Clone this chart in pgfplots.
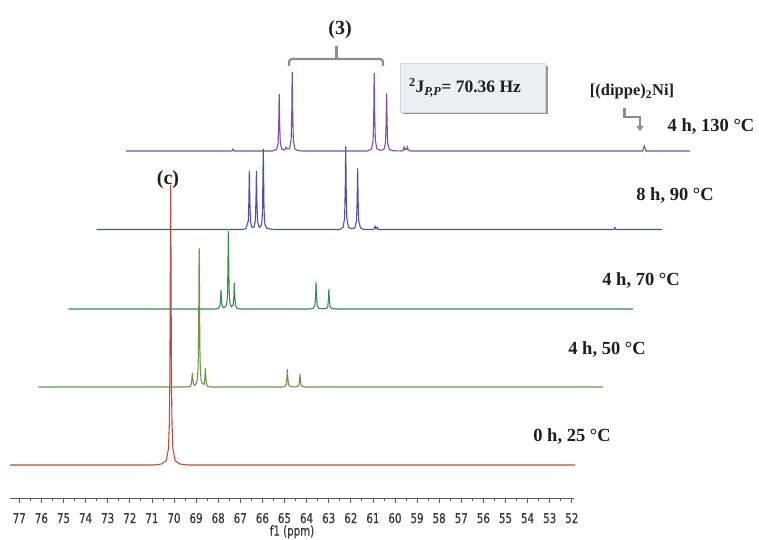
\documentclass[border=0pt]{standalone}
\usepackage{fontspec}
\setmainfont{Liberation Serif}
\newfontfamily\ticfont[FakeStretch=0.76, FakeBold=0.5]{DejaVu Sans}
\usepackage{pgfplots}
\pgfplotsset{compat=1.18}
\usetikzlibrary{arrows.meta}
\definecolor{cred}{RGB}{180,80,60}
\definecolor{cgA}{RGB}{110,150,70}
\definecolor{cgB}{RGB}{60,140,80}
\definecolor{cblue}{RGB}{80,80,160}
\definecolor{cpur}{RGB}{125,80,160}
\definecolor{ctxt}{RGB}{30,30,30}
\definecolor{ctick}{RGB}{55,55,55}
\definecolor{cbr}{RGB}{140,140,140}
\definecolor{cboxf}{RGB}{237,240,243}
\definecolor{cboxd}{RGB}{212,216,222}
\definecolor{cshad}{RGB}{150,150,150}
\definecolor{caxis}{RGB}{90,90,90}
\begin{document}
\begin{tikzpicture}
\begin{axis}[name=main, at={(0,0)}, anchor=south west, scale only axis,
  width=759pt, height=539pt, xmin=43.53, xmax=77.873, x dir=reverse,
  ymin=0, ymax=539, hide axis, clip=false]
% 0 h, 25 C
\addplot[cred, line width=1.1pt] coordinates {
(77.42,74) (70.90,74) (70.55,75.1) (70.35,78.3) (70.25,90.5) (70.21,115.4) (70.19,152.7) (70.175,214) (70.165,280) (70.15,354) (70.135,280) (70.125,214) (70.11,152.7) (70.09,115.4) (70.05,90.5) (69.95,78.3) (69.75,75.1) (69.40,74) (51.85,74)};
% 4 h, 50 C
\addplot[cgA, line width=1.1pt] coordinates {
(76.14,152) (69.45,152) (69.25,152.5) (69.22,155) (69.19,159.7) (69.17,166) (69.15,159.9) (69.12,155.4) (69.06,153.7) (68.98,156) (68.94,160.2) (68.91,171) (68.895,186) (68.88,221.5) (68.87,263) (68.86,291) (68.85,263) (68.84,221.5) (68.825,186) (68.81,171) (68.78,160.3) (68.74,156.3) (68.66,154.5) (68.63,155.5) (68.60,161.9) (68.58,170.8) (68.56,161.7) (68.53,154.5) (68.46,152.5) (68.30,152)
(65.10,152) (64.99,152.5) (64.92,154.5) (64.89,161) (64.87,170) (64.85,161) (64.82,154.5) (64.75,152.5) (64.55,152) (64.42,152.4) (64.35,153.8) (64.32,158.5) (64.30,165) (64.28,158.5) (64.25,153.8) (64.18,152.4) (64.05,152) (50.59,152)};
% 4 h, 70 C
\addplot[cgB, line width=1.1pt] coordinates {
(74.78,230) (68.15,230) (68.00,230.5) (67.92,232.8) (67.89,239.8) (67.87,249.3) (67.85,239.8) (67.82,233) (67.76,231.2) (67.66,232.3) (67.62,234.6) (67.59,240.8) (67.575,249.2) (67.56,269) (67.55,292.4) (67.54,308) (67.53,292.4) (67.52,269) (67.505,249.2) (67.49,241) (67.46,235) (67.40,232.2) (67.32,234.2) (67.29,243.5) (67.27,256) (67.25,243) (67.22,233.6) (67.15,230.7) (67.00,230)
(63.85,230) (63.70,230.7) (63.62,233.7) (63.59,243.5) (63.57,257) (63.55,243.5) (63.52,233.7) (63.45,230.7) (63.30,230.2) (63.10,230.5) (63.04,232.8) (63.01,240) (62.99,250) (62.97,240) (62.94,232.8) (62.87,230.5) (62.70,230) (49.23,230)};
% 8 h, 90 C
\addplot[cblue, line width=1.1pt] coordinates {
(73.50,309.5) (66.90,309.5) (66.75,310.4) (66.64,317.8) (66.61,338.8) (66.60,356.3) (66.59,368) (66.58,356.3) (66.57,338.8) (66.54,318) (66.49,312.2) (66.43,311.4) (66.37,312.4) (66.32,318.2) (66.29,339.2) (66.28,356.5) (66.27,368.2) (66.26,356.6) (66.25,339.3) (66.22,318.1) (66.16,312.2) (66.10,311.9) (66.04,314.6) (66.01,320.8) (65.99,334.5) (65.97,373.9) (65.96,390) (65.95,373.9) (65.93,334.5) (65.91,320.6) (65.88,314.2) (65.80,310.7) (65.60,309.8) (65.40,309.5)
(62.50,309.5) (62.35,311.7) (62.28,321) (62.25,351) (62.24,375.9) (62.23,392.5) (62.22,375.9) (62.21,351) (62.18,321) (62.10,311.5) (61.96,310.3) (61.82,311.1) (61.74,317.9) (61.71,340) (61.70,358.3) (61.69,370.5) (61.68,358.3) (61.67,340) (61.64,317.9) (61.56,311) (61.40,309.5)
(60.98,309.5) (60.93,310.5) (60.90,312.5) (60.87,310.5) (60.84,311) (60.81,311.8) (60.78,309.8) (60.70,309.5) (50.10,309.5) (50.05,311.5) (50.00,309.5) (47.93,309.5)};
% 4 h, 130 C
\addplot[cpur, line width=1.1pt] coordinates {
(72.17,388) (67.38,388) (67.33,390) (67.28,388) (65.55,388) (65.36,389.5) (65.29,395.9) (65.26,416.5) (65.25,433.6) (65.24,445) (65.23,433.6) (65.22,416.5) (65.19,396) (65.12,389.7) (65.00,389) (64.93,391.7) (64.86,390) (64.77,390.2) (64.70,398.9) (64.67,427.5) (64.66,451.2) (64.65,467) (64.64,451.2) (64.63,427.5) (64.60,398.9) (64.53,390.1) (64.40,388.4) (64.20,388)
(61.25,388) (61.06,390.1) (60.99,398.8) (60.96,427) (60.95,450.4) (60.94,466) (60.93,450.4) (60.92,427) (60.89,398.8) (60.82,390.2) (60.66,388.7) (60.50,389.6) (60.43,396) (60.40,416.9) (60.39,434.2) (60.38,445.7) (60.37,434.2) (60.36,416.9) (60.33,396) (60.26,389.6) (60.10,388.3) (59.70,388) (59.62,389) (59.59,392) (59.555,389.5) (59.515,390) (59.48,389.5) (59.44,392) (59.40,389) (59.30,388) (48.80,388) (48.72,393) (48.64,388) (46.65,388)};
\end{axis}
\begin{axis}[at={(10pt,40.5pt)}, anchor=south west, scale only axis,
  width=564pt, height=10pt, xmin=51.9, xmax=77.42, x dir=reverse,
  ymin=0, ymax=1, hide y axis, axis x line=bottom,
  axis line style={-, draw=caxis, line width=0.8pt},
  xtick={52,...,77}, minor x tick num=1, tick align=outside,
  major tick length=4pt, minor tick length=2.5pt,
  tick style={draw=caxis, line width=0.7pt},
  /pgf/number format/assume math mode=true,
  xticklabel style={font=\ticfont\fontsize{13.5}{14}\selectfont, text=ctick, anchor=base, yshift=-20.5pt},
  xlabel={f1 (ppm)},
  xlabel style={font=\ticfont\fontsize{13.5}{14}\selectfont, text=ctick, at={(axis description cs:0.5,0)}, anchor=base, yshift=-37pt}]
\addplot[draw=none] coordinates {(60,0.5)};
\end{axis}
% annotations
\begin{scope}[font=\bfseries, text=ctxt]
\node[font=\bfseries\fontsize{18.5}{20}\selectfont, anchor=base] at (711pt,407pt) {4 h, 130 °C};
\node[font=\bfseries\fontsize{18.5}{20}\selectfont, anchor=base] at (675pt,339pt) {8 h, 90 °C};
\node[font=\bfseries\fontsize{18.5}{20}\selectfont, anchor=base] at (641pt,254pt) {4 h, 70 °C};
\node[font=\bfseries\fontsize{18.5}{20}\selectfont, anchor=base] at (607pt,185pt) {4 h, 50 °C};
\node[font=\bfseries\fontsize{18.5}{20}\selectfont, anchor=base] at (572pt,98pt) {0 h, 25 °C};
\node[font=\bfseries\fontsize{20}{22}\selectfont] at (168pt,359pt) {(c)};
\node[font=\bfseries\fontsize{20}{22}\selectfont] at (340pt,509pt) {(3)};
\node[font=\bfseries\fontsize{16.5}{18}\selectfont] at (632pt,447pt) {[(dippe)\textsubscript{2}Ni]};
\end{scope}
\draw[cbr, line width=2.2pt, rounded corners=3pt] (289pt,473pt) -- (289pt,480pt) -- (383pt,480pt) -- (383pt,473pt);
\draw[cbr, line width=2.2pt] (336.5pt,480pt) -- (336.5pt,493pt);
\fill[cshad] (403pt,424.5pt) rectangle (547.5pt,473pt);
\filldraw[fill=cboxf, draw=cboxd, line width=0.6pt] (400pt,427pt) rectangle (545pt,476pt);
\node[font=\bfseries\fontsize{17.5}{19}\selectfont, text=ctxt] at (465pt,451pt) {\textsuperscript{2}J\textsubscript{\textit{P,P}}= 70.36 Hz};
\draw[cbr, line width=2.4pt, -{Triangle[width=7pt,length=5pt]}] (624.3pt,431pt) -- (624.3pt,422pt) -- (640pt,422pt) -- (640pt,408pt);
\pgfresetboundingbox
\path[use as bounding box] (0,0) rectangle (759pt,539pt);
\end{tikzpicture}
\end{document}
